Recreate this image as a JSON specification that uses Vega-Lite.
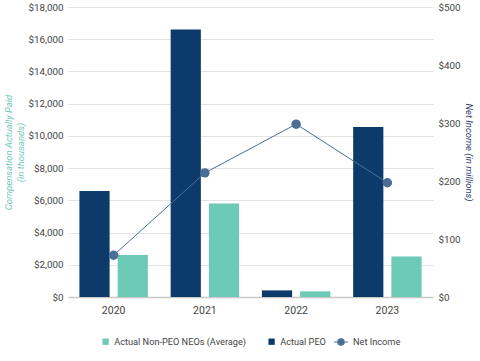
{
  "$schema": "https://vega.github.io/schema/vega-lite/v6.json",
  "autosize": "none",
  "width": 365,
  "height": 290,
  "padding": {"left": 68, "top": 7, "right": 47, "bottom": 64},
  "background": "white",
  "config": {
    "font": "Roboto",
    "view": {"stroke": null},
    "axis": {"labelFont": "Roboto", "titleFont": "Roboto", "labelColor": "#444444", "labelFontSize": 10}
  },
  "datasets": {
    "comp": [
      {"year": "2020", "series": "Actual PEO", "value": 6580},
      {"year": "2020", "series": "Actual Non-PEO NEOs (Average)", "value": 2600},
      {"year": "2021", "series": "Actual PEO", "value": 16600},
      {"year": "2021", "series": "Actual Non-PEO NEOs (Average)", "value": 5800},
      {"year": "2022", "series": "Actual PEO", "value": 410},
      {"year": "2022", "series": "Actual Non-PEO NEOs (Average)", "value": 350},
      {"year": "2023", "series": "Actual PEO", "value": 10550},
      {"year": "2023", "series": "Actual Non-PEO NEOs (Average)", "value": 2520}
    ],
    "income": [
      {"year": "2020", "series": "Net Income", "income": 72},
      {"year": "2021", "series": "Net Income", "income": 214},
      {"year": "2022", "series": "Net Income", "income": 298},
      {"year": "2023", "series": "Net Income", "income": 197}
    ]
  },
  "encoding": {
    "x": {
      "field": "year", "type": "nominal",
      "scale": {"paddingInner": 0.25, "paddingOuter": 0.125},
      "axis": {"title": null, "labelAngle": 0, "ticks": false, "domainColor": "#c8c8c8", "domainWidth": 1.5, "labelPadding": 8, "labelFontSize": 10.5}
    }
  },
  "layer": [
    {
      "data": {"name": "comp"},
      "mark": {"type": "bar"},
      "encoding": {
        "xOffset": {"field": "series", "type": "nominal", "scale": {"domain": ["Actual PEO", "Actual Non-PEO NEOs (Average)"], "paddingInner": 0.21}},
        "y": {
          "field": "value", "type": "quantitative",
          "scale": {"domain": [0, 18000]},
          "axis": {
            "title": ["Compensation Actually Paid", "(in thousands)"],
            "titleColor": "#6DCAB6", "titleFontStyle": "italic", "titleFontWeight": "normal", "titleFontSize": 9.5,
            "titlePadding": 3, "values": [0, 2000, 4000, 6000, 8000, 10000, 12000, 14000, 16000, 18000],
            "labelOverlap": false, "labelFontSize": 9.8,
            "format": "$,d", "domain": false, "ticks": false, "labelPadding": 5,
            "grid": true, "gridColor": "#e3e3e3"
          }
        },
        "color": {
          "field": "series", "type": "nominal",
          "scale": {"domain": ["Actual Non-PEO NEOs (Average)", "Actual PEO"], "range": ["#6DCAB6", "#0C3A6B"]},
          "legend": {
            "title": null, "orient": "none", "direction": "horizontal", "legendX": 33, "legendY": 330,
            "symbolType": "square", "symbolSize": 40, "labelFontSize": 9.2, "labelColor": "#444444", "columnPadding": 20, "labelFont": "Roboto"
          }
        }
      }
    },
    {
      "data": {"name": "income"},
      "mark": {"type": "line", "strokeWidth": 1, "point": {"filled": true, "size": 90, "color": "#436C98"}},
      "encoding": {
        "y": {
          "field": "income", "type": "quantitative",
          "scale": {"domain": [0, 500]},
          "axis": {
            "orient": "right", "title": "Net Income (in millions)",
            "titleColor": "#1F3E6A", "titleFontStyle": "italic", "titleFontWeight": "normal", "titleFontSize": 9.5,
            "titlePadding": 3, "values": [0, 100, 200, 300, 400, 500], "labelFontSize": 9.8,
            "format": "$,d", "domain": false, "ticks": false, "labelPadding": 5, "grid": false
          }
        },
        "color": {
          "field": "series", "type": "nominal",
          "scale": {"domain": ["Net Income"], "range": ["#4A6E96"]},
          "legend": {
            "title": null, "orient": "none", "legendX": 265, "legendY": 327,
            "symbolType": "M-1,0L1,0M-0.45,0A0.45,0.45 0 1,1 0.45,0A0.45,0.45 0 1,1 -0.45,0Z",
            "symbolSize": 200, "symbolFillColor": "#436C98", "symbolStrokeColor": "#4A6E96", "symbolStrokeWidth": 1.2,
            "labelFontSize": 9.2, "labelColor": "#444444", "labelFont": "Roboto"
          }
        }
      }
    }
  ],
  "resolve": {"scale": {"y": "independent", "color": "independent"}}
}
